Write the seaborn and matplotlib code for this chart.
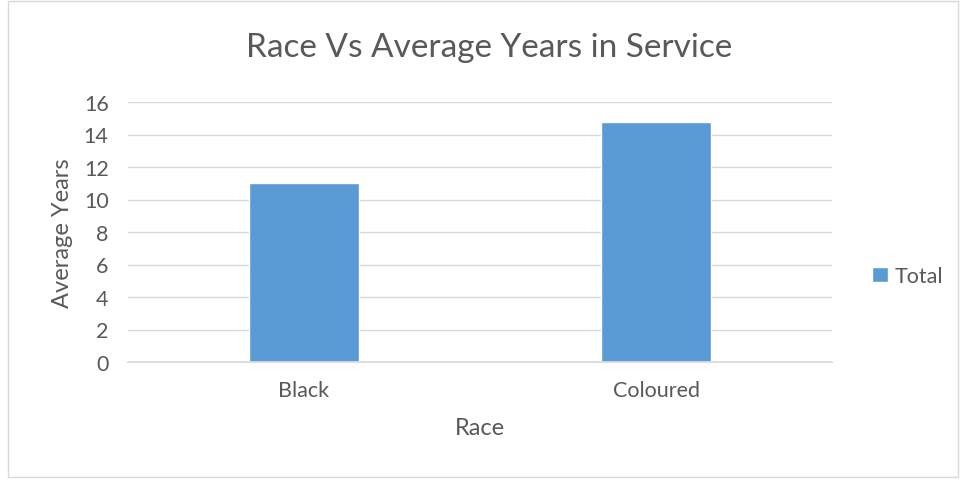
import matplotlib
matplotlib.use("Agg")
import matplotlib.pyplot as plt
import seaborn as sns
import pandas as pd
from matplotlib.patches import Rectangle

races = ["Black", "Coloured"]
avg_years = [11.0, 14.8]
series_name = "Total"
y_ticks = [0, 2, 4, 6, 8, 10, 12, 14, 16]

df = pd.DataFrame({"Race": races, series_name: avg_years})

sns.set_theme(style="white")
plt.rcParams["font.family"] = ["Lato", "DejaVu Sans"]
txt = "#595959"

fig = plt.figure(figsize=(9.62, 4.81), dpi=100)
fig.patches.append(Rectangle((8 / 962, 3 / 481), 950 / 962, 476 / 481, transform=fig.transFigure,
                             fill=False, edgecolor="#D9D9D9", linewidth=1))
ax = fig.add_axes([128 / 962, 1 - 363 / 481, 704 / 962, 260 / 481])

sns.barplot(data=df, x="Race", y=series_name, color="#5B9BD5", width=0.31,
            label=series_name, ax=ax, saturation=1)

ax.set_ylim(0, 16)
ax.set_yticks(y_ticks)
ax.yaxis.grid(True, color="#D9D9D9", linewidth=1)
ax.set_axisbelow(True)
for s in ["top", "right", "left"]:
    ax.spines[s].set_visible(False)
ax.spines["bottom"].set_color("#D9D9D9")
ax.tick_params(axis="both", length=0, labelsize=15.5, colors=txt)
ax.tick_params(axis="y", pad=14)
ax.tick_params(axis="x", pad=13)
ax.set_xlabel("Race", fontsize=17, color=txt, labelpad=12)
ax.set_ylabel("Average Years", fontsize=17, color=txt, labelpad=8)
fig.text(489 / 962, 1 - 48 / 481, "Race Vs Average Years in Service", ha="center", va="center",
         fontsize=24, color=txt)

leg = ax.legend(loc="center left", bbox_to_anchor=(1.03, 0.33), frameon=False, fontsize=15.5,
                handlelength=0.7, handleheight=0.7, handletextpad=0.35, labelcolor=txt)

fig.savefig("out.png", dpi=100)
